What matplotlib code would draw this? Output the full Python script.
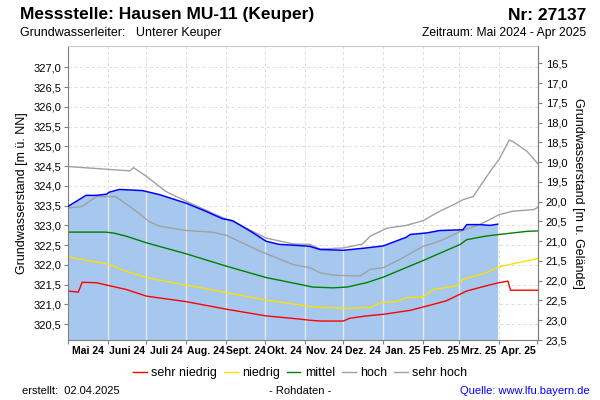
import numpy as np
import pandas as pd
import matplotlib
matplotlib.use('Agg')
import matplotlib.pyplot as plt
import matplotlib.dates as mdates
from matplotlib.lines import Line2D

plt.rcParams['font.family'] = ['Liberation Sans', 'DejaVu Sans']

# Geländehöhe (m ü. NN) für die rechte Achse
gelaende = 343.6

# Messwerte (Rohdaten)
mess_datum = ['2024-05-01', '2024-05-15', '2024-05-23', '2024-05-31', '2024-06-02', '2024-06-10',
              '2024-06-28', '2024-07-11', '2024-08-01', '2024-08-16', '2024-08-29', '2024-09-06',
              '2024-09-20', '2024-10-02', '2024-10-12', '2024-10-28', '2024-11-05', '2024-11-13',
              '2024-12-01', '2024-12-19', '2025-01-01', '2025-01-19', '2025-01-22', '2025-02-04',
              '2025-02-14', '2025-03-04', '2025-03-07', '2025-03-17', '2025-03-25', '2025-03-31']
mess_wert = [323.48, 323.76, 323.76, 323.79, 323.84, 323.91,
             323.88, 323.78, 323.56, 323.36, 323.17, 323.12,
             322.85, 322.60, 322.52, 322.49, 322.47, 322.39,
             322.37, 322.43, 322.48, 322.70, 322.77, 322.81,
             322.87, 322.89, 323.02, 323.02, 323.00, 323.03]

# Kennwerte
sh_datum = ['2024-05-01', '2024-06-18', '2024-06-21', '2024-07-01', '2024-07-16', '2024-08-01',
            '2024-08-24', '2024-08-27', '2024-09-11', '2024-10-02', '2024-10-23', '2024-11-05',
            '2024-11-13', '2024-12-01', '2024-12-16', '2024-12-22', '2025-01-04', '2025-01-19',
            '2025-02-01', '2025-02-14', '2025-02-27', '2025-03-04', '2025-03-12', '2025-03-19',
            '2025-03-27', '2025-04-01', '2025-04-09', '2025-04-12', '2025-04-23', '2025-05-01']
sh_wert = [324.49, 324.38, 324.46, 324.24, 323.86, 323.61,
           323.27, 323.23, 323.02, 322.68, 322.53, 322.52,
           322.40, 322.43, 322.53, 322.73, 322.93, 323.00,
           323.12, 323.36, 323.56, 323.65, 323.73, 324.07,
           324.45, 324.66, 325.16, 325.12, 324.87, 324.57]

hoch_datum = ['2024-05-01', '2024-05-12', '2024-05-23', '2024-06-07', '2024-06-18', '2024-06-23',
              '2024-07-03', '2024-07-11', '2024-08-01', '2024-08-21', '2024-09-01', '2024-09-27',
              '2024-10-23', '2024-11-05', '2024-11-13', '2024-11-23', '2024-12-14', '2024-12-22',
              '2025-01-01', '2025-01-14', '2025-02-01', '2025-02-14', '2025-03-02', '2025-03-17',
              '2025-03-25', '2025-04-01', '2025-04-12', '2025-04-28', '2025-05-01']
hoch_wert = [323.44, 323.48, 323.73, 323.73, 323.48, 323.36,
             323.10, 322.98, 322.87, 322.83, 322.75, 322.35,
             322.01, 321.93, 321.80, 321.74, 321.72, 321.89,
             321.93, 322.14, 322.47, 322.60, 322.85, 323.02,
             323.15, 323.27, 323.36, 323.40, 323.45]

mittel_datum = ['2024-05-01', '2024-05-30', '2024-06-05', '2024-06-15', '2024-07-01', '2024-08-01',
                '2024-09-01', '2024-10-02', '2024-10-28', '2024-11-07', '2024-11-23', '2024-12-04',
                '2024-12-19', '2025-01-01', '2025-02-01', '2025-03-02', '2025-03-07', '2025-03-22',
                '2025-04-01', '2025-04-23', '2025-05-01']
mittel_wert = [322.83, 322.83, 322.81, 322.73, 322.56, 322.28,
               321.97, 321.68, 321.51, 321.44, 321.42, 321.44,
               321.55, 321.69, 322.11, 322.52, 322.64, 322.73,
               322.77, 322.85, 322.86]

niedrig_datum = ['2024-05-01', '2024-05-31', '2024-06-15', '2024-07-01', '2024-08-01', '2024-09-01',
                 '2024-10-02', '2024-10-28', '2024-11-07', '2024-12-01', '2024-12-22', '2024-12-30',
                 '2025-01-11', '2025-01-19', '2025-02-01', '2025-02-09', '2025-02-27', '2025-03-04',
                 '2025-03-22', '2025-04-01', '2025-04-15', '2025-05-01']
niedrig_wert = [322.20, 322.03, 321.84, 321.68, 321.49, 321.30,
                321.11, 320.99, 320.94, 320.90, 320.92, 321.05,
                321.07, 321.17, 321.19, 321.38, 321.47, 321.63,
                321.80, 321.95, 322.05, 322.16]

sn_datum = ['2024-05-01', '2024-05-09', '2024-05-12', '2024-05-23', '2024-05-31', '2024-06-15',
            '2024-07-01', '2024-08-01', '2024-09-01', '2024-10-02', '2024-10-28', '2024-11-05',
            '2024-11-13', '2024-12-01', '2024-12-06', '2024-12-19', '2025-01-01', '2025-01-22',
            '2025-02-04', '2025-02-19', '2025-03-07', '2025-03-22', '2025-04-01', '2025-04-08',
            '2025-04-10', '2025-05-01']
sn_wert = [321.34, 321.31, 321.56, 321.55, 321.49, 321.38,
           321.21, 321.07, 320.88, 320.71, 320.63, 320.60,
           320.58, 320.58, 320.65, 320.71, 320.75, 320.85,
           320.96, 321.09, 321.34, 321.47, 321.55, 321.59,
           321.36, 321.36]

monat_labels = ['Mai 24', 'Juni 24', 'Juli 24', 'Aug. 24', 'Sept. 24', 'Okt. 24',
                'Nov. 24', 'Dez. 24', 'Jan. 25', 'Feb. 25', 'Mrz. 25', 'Apr. 25']

links_ticks = np.arange(320.5, 327.01, 0.5)
rechts_ticks = np.arange(16.5, 23.51, 0.5)

ylim = (320.1, 327.54)

fig = plt.figure(figsize=(6, 4), dpi=100)
ax = fig.add_axes([68 / 600, 1 - 340 / 400, (537.5 - 68) / 600, (340 - 46) / 400])

mx = mdates.date2num(pd.to_datetime(mess_datum))
monate = pd.date_range('2024-05-01', '2025-05-01', freq='MS')
monat_num = mdates.date2num(monate)
monat_mitte = (monat_num[:-1] + monat_num[1:]) / 2

# Gitter
for v in links_ticks:
    ax.axhline(v, color='#DCDCDC', lw=0.7, ls=(0, (3, 3)), zorder=0)
for m in monat_num[1:-1]:
    ax.axvline(m, color='#DCDCDC', lw=0.7, ls=(0, (3, 3)), zorder=0)

# Messwerte als Fläche
ax.fill_between(mx, ylim[0], mess_wert, color='#A6C8EE', lw=0, zorder=1)
for m in monat_num[1:-1]:
    if m <= mx[-1]:
        ax.vlines(m, ylim[0], np.interp(m, mx, mess_wert), color='#E6EAF0', lw=1.0, zorder=1.5)

ax.plot(pd.to_datetime(sn_datum), sn_wert, color='#FF0000', lw=1.0, zorder=2)
ax.plot(pd.to_datetime(niedrig_datum), niedrig_wert, color='#FFE000', lw=1.0, zorder=2)
ax.plot(pd.to_datetime(mittel_datum), mittel_wert, color='#008000', lw=1.0, zorder=2)
ax.plot(pd.to_datetime(hoch_datum), hoch_wert, color='#A0A0A0', lw=1.0, zorder=2)
ax.plot(pd.to_datetime(sh_datum), sh_wert, color='#A0A0A0', lw=1.0, zorder=2)
ax.plot(mx, mess_wert, color='#0000FF', lw=1.1, zorder=3)

ax.set_xlim(monat_num[0], monat_num[-1])
ax.set_ylim(*ylim)

ax.set_xticks(monat_num)
ax.set_xticklabels([])
ax.set_xticks(monat_mitte, minor=True)
ax.set_xticklabels(monat_labels, minor=True, fontsize=7.5, fontweight='bold')
ax.tick_params(axis='x', which='major', length=3, color='#808080')
ax.tick_params(axis='x', which='minor', length=0, pad=4)

ax.set_yticks(links_ticks)
ax.set_yticklabels([f'{v:.1f}'.replace('.', ',') for v in links_ticks], fontsize=8)
ax.tick_params(axis='y', length=3, color='#808080', pad=2)
ax.set_ylabel('Grundwasserstand [m ü. NN]', fontsize=9, labelpad=4)

for s in ax.spines.values():
    s.set_color('#808080')
ax.spines['top'].set_color('#C8C8C8')

ax2 = ax.twinx()
ax2.set_ylim(gelaende - ylim[0], gelaende - ylim[1])
ax2.set_yticks(rechts_ticks)
ax2.set_yticklabels([f'{v:.1f}'.replace('.', ',') for v in rechts_ticks], fontsize=8)
ax2.tick_params(axis='y', length=3, color='#808080', pad=3)
ax2.set_ylabel('Grundwasserstand [m u. Gelände]', fontsize=9, rotation=270, labelpad=12)
for s in ax2.spines.values():
    s.set_visible(False)
ax2.spines['right'].set_visible(True)
ax2.spines['right'].set_color('#808080')

# Kopf
fig.text(20 / 600, 1 - 15 / 400, 'Messstelle: Hausen MU-11 (Keuper)', fontsize=12.5,
         fontweight='bold', va='center', ha='left')
fig.text(586 / 600, 1 - 15 / 400, 'Nr: 27137', fontsize=12.5, fontweight='bold', va='center', ha='right')
fig.text(20 / 600, 1 - 33 / 400, 'Grundwasserleiter:   Unterer Keuper', fontsize=9, va='center', ha='left')
fig.text(586 / 600, 1 - 33 / 400, 'Zeitraum: Mai 2024 - Apr 2025', fontsize=8.7, va='center', ha='right')

# Legende
handles = [Line2D([], [], color=c, lw=1.0) for c in ['#FF0000', '#FFE000', '#008000', '#A0A0A0', '#A0A0A0']]
fig.legend(handles, ['sehr niedrig', 'niedrig', 'mittel', 'hoch', 'sehr hoch'],
           loc='center', bbox_to_anchor=(0.5, 1 - 373 / 400), ncol=5, frameon=False,
           fontsize=9, handlelength=1.1, handletextpad=0.35, columnspacing=0.55)

# Fuß
fig.text(22 / 600, 1 - 391 / 400, 'erstellt:  02.04.2025', fontsize=8, va='center', ha='left')
fig.text(300 / 600, 1 - 391 / 400, '- Rohdaten -', fontsize=8, va='center', ha='center')
fig.text(590 / 600, 1 - 391 / 400, 'Quelle: www.lfu.bayern.de', fontsize=8, va='center', ha='right', color='#0000FF')

fig.savefig('out.png', dpi=100)
